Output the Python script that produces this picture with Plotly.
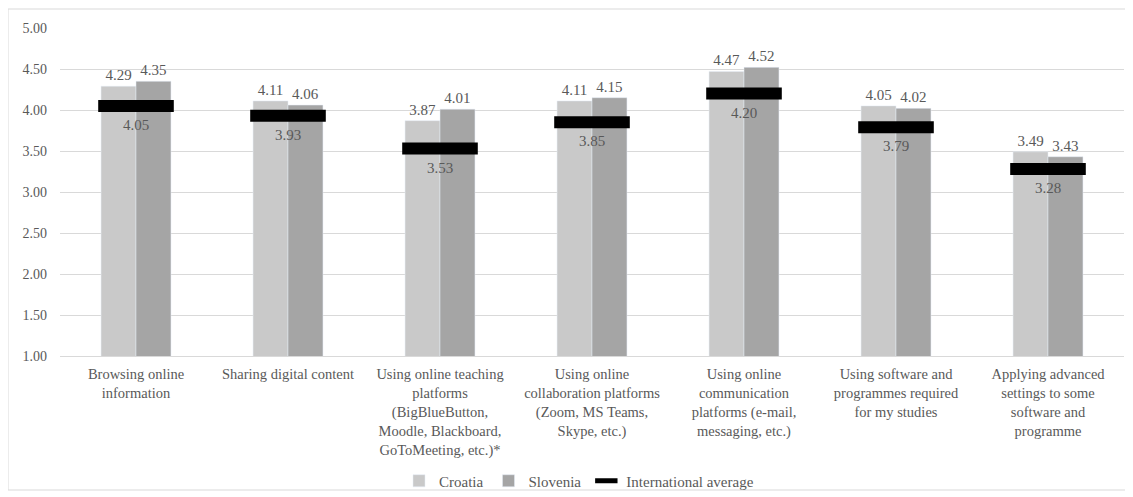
import plotly.graph_objects as go

categories = [
    "Browsing online<br>information",
    "Sharing digital content",
    "Using online teaching<br>platforms<br>(BigBlueButton,<br>Moodle, Blackboard,<br>GoToMeeting, etc.)*",
    "Using online<br>collaboration platforms<br>(Zoom, MS Teams,<br>Skype, etc.)",
    "Using online<br>communication<br>platforms (e-mail,<br>messaging, etc.)",
    "Using software and<br>programmes required<br>for my studies",
    "Applying advanced<br>settings to some<br>software and<br>programme",
]
croatia = [4.29, 4.11, 3.87, 4.11, 4.47, 4.05, 3.49]
slovenia = [4.35, 4.06, 4.01, 4.15, 4.52, 4.02, 3.43]
intl_avg = [4.05, 3.93, 3.53, 3.85, 4.20, 3.79, 3.28]

FONT = "Liberation Serif"
TXT = "#595959"

# the page body has an 8px margin, so work in figure coords = page coords - 8
OFF = 8
W, H = 1133 - OFF, 497 - OFF
L, R, T, B = 60 - OFF, 1124 - OFF, 28 - OFF, 356 - OFF

fig = go.Figure()
fig.add_trace(go.Bar(
    name="Croatia", x=categories, y=croatia, marker_color="#c9c9c9",
    text=[f"{v:.2f}" for v in croatia], textposition="outside",
    textfont=dict(family=FONT, color=TXT, size=15), cliponaxis=False,
))
fig.add_trace(go.Bar(
    name="Slovenia", x=categories, y=slovenia, marker_color="#a5a5a5",
    text=[f"{v:.2f}" for v in slovenia], textposition="outside",
    textfont=dict(family=FONT, color=TXT, size=15), cliponaxis=False,
))
fig.add_trace(go.Scatter(
    name="International average", x=categories, y=intl_avg, mode="markers",
    marker=dict(symbol="line-ew", size=54, line=dict(width=12, color="black")),
))

# labels for the averages, below the marker
for c, v in zip(categories, intl_avg):
    fig.add_annotation(
        x=c, y=v, text=f"{v:.2f}", showarrow=False, yshift=-19,
        font=dict(family=FONT, color=TXT, size=15),
    )

pw, ph = R - L, B - T
# outer chart border (page coords 8..1131, 9..490)
fig.add_shape(
    type="rect", xref="paper", yref="paper",
    x0=(8 - OFF - L) / pw, x1=(1131 - OFF - L) / pw,
    y0=(B - (490 - OFF)) / ph, y1=(B - (9 - OFF)) / ph,
    line=dict(color="#d9d9d9", width=1), layer="below",
)

fig.update_layout(
    width=W, height=H,
    margin=dict(l=L, r=W - R, t=T, b=H - B, autoexpand=False),
    plot_bgcolor="white", paper_bgcolor="white",
    font=dict(family=FONT, size=15, color=TXT),
    barmode="group", bargap=0.54, bargroupgap=0,
    showlegend=True,
    legend=dict(
        orientation="h", x=(579 - OFF - L) / pw, xanchor="center",
        y=(B - (481 - OFF)) / ph, yanchor="middle", bgcolor="rgba(0,0,0,0)",
        font=dict(family=FONT, size=15, color=TXT), itemwidth=30,
    ),
    xaxis=dict(
        range=[-0.5, 6.5],
        showline=True, linecolor="#d9d9d9", linewidth=1,
        tickangle=0, ticks="", showgrid=False, automargin=False,
        ticklabelstandoff=5,
        tickfont=dict(family=FONT, size=14.5, color=TXT),
    ),
    yaxis=dict(
        range=[1, 5], dtick=0.5, tickformat=".2f",
        showgrid=True, gridcolor="#d9d9d9", gridwidth=1,
        zeroline=False, ticks="", ticklabelstandoff=12, automargin=False,
        tickfont=dict(family=FONT, size=14, color=TXT),
    ),
)

fig.write_html("out.html")
